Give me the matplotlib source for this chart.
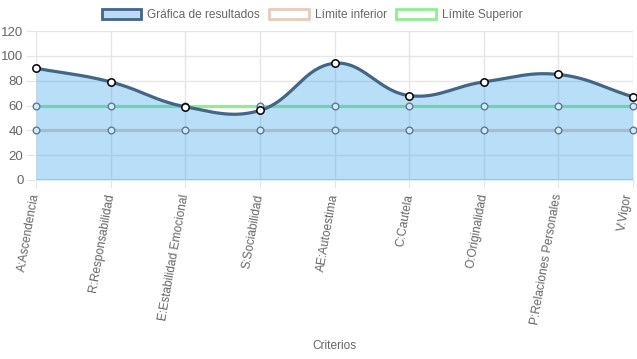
import numpy as np
import matplotlib
matplotlib.use("Agg")
import matplotlib.pyplot as plt
import matplotlib.transforms as mtransforms
from matplotlib.patches import Patch

plt.rcParams['font.family'] = ['Liberation Sans', 'DejaVu Sans']

categories = ["A:Ascendencia", "R:Responsabilidad", "E:Estabilidad Emocional",
              "S:Sociabilidad", "AE:Autoestima", "C:Cautela", "O:Originalidad",
              "P:Relaciones Personales", "V:Vigor"]
resultados = [90, 79, 59, 56, 94, 68, 79, 85, 67]
limite_inferior = [40, 40, 40, 40, 40, 40, 40, 40, 40]
limite_superior = [60, 60, 60, 60, 60, 60, 60, 60, 60]
y_ticks = [0, 20, 40, 60, 80, 100, 120]

W, H, DPI = 637, 359, 100
fig = plt.figure(figsize=(W / DPI, H / DPI), dpi=DPI)
left, right, top, bottom = 36, 633, 31, 180
ax = fig.add_axes([left / W, 1 - bottom / H, (right - left) / W, (bottom - top) / H])

n = len(categories)
ax.set_xlim(0, n - 1)
ax.set_ylim(0, 120)

# Chart.js-like spline (tension 0.4) computed in pixel-space
sx = (right - left) / (n - 1)
sy = (bottom - top) / 120.0

def spline(vals, t=0.4):
    P = np.array([[i * sx, v * sy] for i, v in enumerate(vals)])
    cps = []
    for i in range(len(P)):
        prev = P[i - 1] if i > 0 else P[i]
        cur = P[i]
        nxt = P[i + 1] if i < len(P) - 1 else P[i]
        d01 = np.hypot(*(cur - prev))
        d12 = np.hypot(*(nxt - cur))
        tot = d01 + d12
        s01 = d01 / tot if tot else 0
        s12 = d12 / tot if tot else 0
        cp_prev = cur - t * s01 * (nxt - prev)
        cp_next = cur + t * s12 * (nxt - prev)
        cp_prev = np.clip(cp_prev, [0, 0], [(n - 1) * sx, 120 * sy])
        cp_next = np.clip(cp_next, [0, 0], [(n - 1) * sx, 120 * sy])
        cps.append((cp_prev, cp_next))
    xs, ys = [], []
    tt = np.linspace(0, 1, 40)
    for i in range(len(P) - 1):
        p0, p3 = P[i], P[i + 1]
        p1, p2 = cps[i][1], cps[i + 1][0]
        b = ((1 - tt) ** 3)[:, None] * p0 + (3 * (1 - tt) ** 2 * tt)[:, None] * p1 \
            + (3 * (1 - tt) * tt ** 2)[:, None] * p2 + (tt ** 3)[:, None] * p3
        xs.extend(b[:, 0] / sx)
        ys.extend(b[:, 1] / sy)
    return np.array(xs), np.array(ys)

x = np.arange(n)
green = '#90ee90'
pink = '#e8cabe'
fillc = (54 / 255, 162 / 255, 235 / 255)
linec = '#436586'

# grid
ax.set_yticks(y_ticks)
ax.set_xticks(x)
ax.grid(True, color='#e6e6e6', linewidth=1, zorder=0)
for s in ax.spines.values():
    s.set_visible(False)
ax.axhline(0, color='#cfcfcf', linewidth=2, zorder=1)

# limits (beneath the fill)
ax.plot(x, limite_superior, color=green, linewidth=2.3, zorder=2)
ax.plot(x, limite_inferior, color=pink, linewidth=2.3, zorder=2)

cx, cy = spline(resultados)
ax.fill_between(cx, 0, cy, color=fillc, alpha=0.35, linewidth=0, zorder=3)
ax.plot(cx, cy, color=linec, linewidth=2.3, zorder=4, solid_capstyle='round')

ax.plot(x, limite_superior, linestyle='none', marker='o', markersize=4.8,
        markerfacecolor='#d3e8f9', markeredgecolor='#5b7a98', markeredgewidth=1, zorder=4.5,
        clip_on=False)
ax.plot(x, limite_inferior, linestyle='none', marker='o', markersize=4.8,
        markerfacecolor='#d3e8f9', markeredgecolor='#5b7a98', markeredgewidth=1, zorder=4.5,
        clip_on=False)
ax.plot(x, resultados, linestyle='none', marker='o', markersize=5.3,
        markerfacecolor='white', markeredgecolor='black', markeredgewidth=1.1, zorder=5,
        clip_on=False)

ax.set_xticklabels(categories, rotation=80, ha='right', va='center',
                   rotation_mode='anchor', fontsize=8.6, color='#666666')
ax.tick_params(axis='x', length=6, color='#e6e6e6', pad=4)
ax.tick_params(axis='y', length=7, color='#e6e6e6', pad=2, labelsize=9.5, labelcolor='#666666')
last = ax.get_xticklabels()[-1]
last.set_transform(last.get_transform() +
                   mtransforms.ScaledTranslation(-3 / 72, 0, fig.dpi_scale_trans))

fig.text(334 / W, 1 - 346 / H, 'Criterios', ha='center', va='center',
         fontsize=8.6, color='#666666')

handles = [Patch(facecolor=(0.73, 0.86, 0.97), edgecolor=linec, linewidth=2),
           Patch(facecolor='white', edgecolor=pink, linewidth=2),
           Patch(facecolor='white', edgecolor=green, linewidth=2)]
labels = ['Gráfica de resultados', 'Límite inferior', 'Límite Superior']
leg = fig.legend(handles, labels, loc='center', bbox_to_anchor=(312 / W, 1 - 15 / H),
                 ncol=3, frameon=False, fontsize=8.6, handlelength=3.3, handleheight=1.0,
                 handletextpad=0.5, columnspacing=0.8, borderpad=0)
for t in leg.get_texts():
    t.set_color('#666666')

fig.savefig('out.png', dpi=DPI)
